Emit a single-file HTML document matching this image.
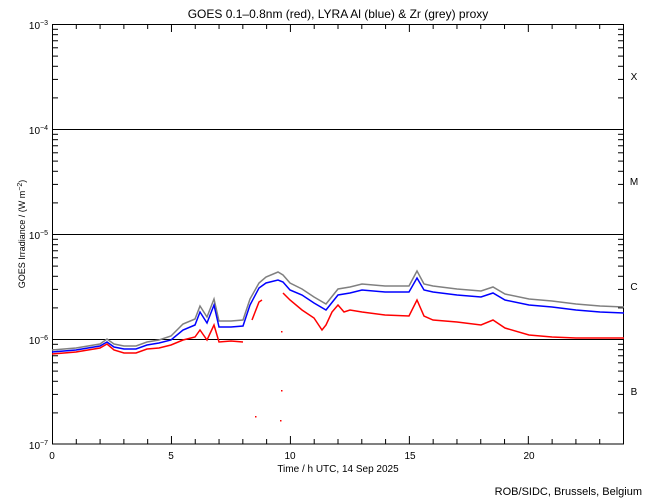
<!DOCTYPE html>
<html><head><style>body{margin:0;background:#fff}svg{display:block;font-family:"Liberation Sans",sans-serif}</style></head><body>
<svg width="650" height="500" viewBox="0 0 650 500" xmlns="http://www.w3.org/2000/svg">
<rect width="650" height="500" fill="#fff"/>
<text x="338" y="18" font-size="12" text-anchor="middle">GOES 0.1–0.8nm (red), LYRA Al (blue) &amp; Zr (grey) proxy</text>
<g stroke="#000" stroke-width="1" fill="none">
<rect x="52.5" y="24.5" width="571" height="419.5"/>
<line x1="52" y1="129.5" x2="624" y2="129.5"/>
<line x1="52" y1="234.5" x2="624" y2="234.5"/>
<line x1="52" y1="339.5" x2="624" y2="339.5"/>
<g id="t"></g>
</g>
<g stroke="#000" stroke-width="1" id="ticks"></g>
<g font-size="10" text-anchor="end">
<text x="48" y="29">10<tspan font-size="7" dy="-4">−3</tspan></text>
<text x="48" y="134">10<tspan font-size="7" dy="-4">−4</tspan></text>
<text x="48" y="239">10<tspan font-size="7" dy="-4">−5</tspan></text>
<text x="48" y="344">10<tspan font-size="7" dy="-4">−6</tspan></text>
<text x="48" y="449">10<tspan font-size="7" dy="-4">−7</tspan></text>
</g>
<g font-size="10" text-anchor="middle">
<text x="52" y="459">0</text><text x="171" y="459">5</text><text x="290" y="459">10</text><text x="410" y="459">15</text><text x="529" y="459">20</text>
<text x="338" y="472">Time / h UTC, 14 Sep 2025</text>
<text x="634" y="80">X</text><text x="634" y="185">M</text><text x="634" y="290">C</text><text x="634" y="395">B</text>
</g>
<text transform="translate(25,234) rotate(-90)" font-size="9" text-anchor="middle">GOES Irradiance / (W m<tspan font-size="7" dy="-3">−2</tspan><tspan dy="3">)</tspan></text>
<text x="642" y="495" font-size="11" text-anchor="end">ROB/SIDC, Brussels, Belgium</text>
<polyline fill="none" stroke="#808080" stroke-width="1.5" points="52,350 64,349 76,348 88,346 100,344 107,339 114,344 124,346 136,346 147,342 159,340 171,336 183,324 195,319 200,306 207,317 214,299 219,321 231,321 243,320 250,299 259,283 266,277 278,272 283,275 290,283 302,289 314,297 326,304 338,289 350,287 362,284 385,286 409,286 417,271 424,284 433,286 457,289 481,291 493,287 505,294 529,299 552,301 576,304 600,306 624,307"/>
<polyline fill="none" stroke="#0000ff" stroke-width="1.5" points="52,352 64,351 76,350 88,348 100,346 107,342 114,347 124,349 136,349 147,345 159,343 171,340 183,330 195,325 200,312 207,323 214,305 219,327 231,327 243,326 250,305 259,288 266,283 278,280 283,282 290,290 302,295 314,303 326,310 338,295 350,293 362,290 385,292 409,292 417,278 424,290 433,292 457,295 481,297 493,293 505,300 529,305 552,307 576,310 600,312 624,313"/>
<polyline fill="none" stroke="#ff0000" stroke-width="1.5" points="52,354 64,353 76,352 88,350 100,348 107,344 114,350 124,353 136,353 147,349 159,348 171,345 183,340 195,337 200,330 207,340 214,325 219,342 231,341 243,342"/>
<polyline fill="none" stroke="#ff0000" stroke-width="1.5" points="252,320 259,302 262,300"/>
<polyline fill="none" stroke="#ff0000" stroke-width="1.5" points="283,293 290,300 302,310 314,318 322,330 326,325 332,312 338,305 344,312 350,310 362,312 385,315 409,316 417,300 424,316 433,320 457,322 481,325 493,320 505,328 529,335 552,337 576,338 600,338 624,338"/>
<rect x="281" y="331" width="1.5" height="1.5" fill="#f00"/>
<rect x="281" y="390" width="1.5" height="1.5" fill="#f00"/>
<rect x="255" y="416" width="1.5" height="1.5" fill="#f00"/>
<rect x="280" y="420" width="1.5" height="1.5" fill="#f00"/>
<script>
var g=document.getElementById('ticks'),ns='http://www.w3.org/2000/svg';
function L(a,b,c,d){var l=document.createElementNS(ns,'line');l.setAttribute('x1',a);l.setAttribute('y1',b);l.setAttribute('x2',c);l.setAttribute('y2',d);g.appendChild(l);}
for(var h=1;h<24;h++){var x=52.5+h*571/24;var len=h%5==0?8:5;L(x,444,x,444-len);L(x,24,x,24+len);}
for(var d=0;d<4;d++){for(var m=2;m<10;m++){var y=444.5-d*105-Math.log10(m)*105;L(52,y,58,y);L(624,y,618,y);}}
</script>
</svg>
</body></html>
